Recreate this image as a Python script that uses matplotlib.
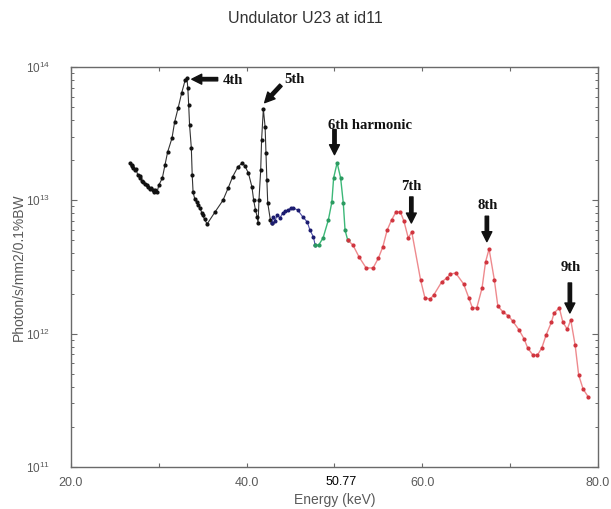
import matplotlib
matplotlib.use("Agg")
import matplotlib.pyplot as plt
from matplotlib.ticker import FixedLocator, LogLocator, LogFormatterMathtext, NullFormatter
import matplotlib.transforms as mtransforms

# ---------------- data ----------------
black_E = [26.7, 26.9, 27.0, 27.1, 27.3, 27.4, 27.6, 27.8, 27.9, 28.1, 28.2, 28.4, 28.6, 28.8,
           29.0, 29.1, 29.3, 29.5, 29.6, 29.8, 30.0, 30.4, 30.7, 31.0, 31.5, 31.8, 32.2, 32.6,
           33.0, 33.2, 33.3, 33.4, 33.5, 33.7, 33.8, 33.9, 34.1, 34.3, 34.5, 34.7, 34.9, 35.0,
           35.2, 35.5, 36.4, 37.3, 37.9, 38.4, 39.0, 39.5, 39.8, 40.2, 40.6, 40.8, 41.0, 41.2,
           41.3, 41.4, 41.6, 41.7, 41.9, 42.1, 42.2, 42.3, 42.4, 42.7, 42.9]
black_F = [1.91e13, 1.80e13, 1.85e13, 1.75e13, 1.70e13, 1.72e13, 1.55e13, 1.52e13, 1.47e13,
           1.40e13, 1.37e13, 1.33e13, 1.30e13, 1.26e13, 1.22e13, 1.24e13, 1.20e13, 1.16e13,
           1.19e13, 1.15e13, 1.30e13, 1.47e13, 1.84e13, 2.30e13, 2.93e13, 3.87e13, 4.93e13,
           6.38e13, 7.99e13, 8.27e13, 6.96e13, 5.19e13, 3.67e13, 2.47e13, 1.55e13, 1.15e13,
           1.02e13, 9.7e12, 9.2e12, 8.76e12, 8.0e12, 7.76e12, 7.2e12, 6.65e12, 8.18e12, 1.0e13,
           1.24e13, 1.50e13, 1.78e13, 1.91e13, 1.81e13, 1.60e13, 1.26e13, 1.0e13, 8.5e12,
           7.5e12, 6.76e12, 1.0e13, 1.69e13, 2.84e13, 4.84e13, 3.55e13, 2.26e13, 1.42e13,
           9.55e12, 7.12e12, 6.76e12]

blue_E = [42.9, 43.0, 43.2, 43.5, 43.8, 44.1, 44.4, 44.7, 45.0, 45.3, 45.8, 46.4, 46.9, 47.2,
          47.6, 47.8]
blue_F = [6.76e12, 7.5e12, 7.0e12, 7.76e12, 7.37e12, 8.04e12, 8.3e12, 8.47e12, 8.7e12, 8.76e12,
          8.47e12, 7.5e12, 6.88e12, 5.99e12, 5.31e12, 4.62e12]

green_E = [47.8, 48.2, 48.7, 49.3, 49.7, 49.9, 50.3, 50.7, 51.0, 51.2, 51.5]
green_F = [4.62e12, 4.62e12, 5.22e12, 7.12e12, 9.7e12, 1.47e13, 1.91e13, 1.47e13, 9.55e12,
           5.99e12, 5.04e12]

red_E = [51.5, 52.1, 52.8, 53.6, 54.4, 55.0, 55.5, 56.0, 56.5, 57.0, 57.5, 57.9, 58.4, 58.8,
         59.8, 60.3, 60.9, 61.3, 62.2, 62.8, 63.2, 63.8, 64.7, 65.3, 65.7, 66.2, 66.8, 67.2,
         67.6, 68.2, 68.6, 69.2, 69.8, 70.3, 71.0, 71.6, 72.0, 72.6, 73.1, 73.6, 74.1, 74.7,
         75.0, 75.6, 76.0, 76.5, 76.9, 77.4, 77.8, 78.3, 78.9]
red_F = [5.04e12, 4.62e12, 3.76e12, 3.11e12, 3.11e12, 3.69e12, 4.47e12, 5.99e12, 7.12e12,
         8.18e12, 8.18e12, 7.0e12, 5.22e12, 5.79e12, 2.53e12, 1.85e12, 1.82e12, 1.95e12,
         2.44e12, 2.62e12, 2.80e12, 2.85e12, 2.36e12, 1.85e12, 1.56e12, 1.56e12, 2.20e12,
         3.45e12, 4.32e12, 2.53e12, 1.61e12, 1.45e12, 1.36e12, 1.24e12, 1.07e12, 9.1e11,
         7.8e11, 6.9e11, 6.9e11, 7.8e11, 9.8e11, 1.22e12, 1.43e12, 1.56e12, 1.22e12, 1.08e12,
         1.27e12, 8.2e11, 4.9e11, 3.85e11, 3.35e11]

# harmonic annotations: label, text position, arrow tail, arrow head
harm_labels = ["4th", "5th", "6th harmonic", "7th", "8th", "9th"]
harm_text = [(37.3, 7.9e13), (44.3, 8.1e13), (54.0, 3.67e13), (58.75, 1.26e13),
             (67.4, 9.2e12), (76.9, 3.16e12)]
harm_ha = ["left", "left", "center", "center", "center", "center"]
arrow_tail = [(36.7, 8.1e13), (43.9, 7.3e13), (50.0, 3.4e13), (58.75, 1.06e13),
              (67.35, 7.6e12), (76.8, 2.4e12)]
arrow_head = [(33.75, 8.1e13), (42.05, 5.4e13), (50.0, 2.2e13), (58.75, 6.76e12),
              (67.35, 4.9e12), (76.8, 1.43e12)]

xticks_major = [20, 30, 40, 50, 60, 70, 80]
xtick_labels = ["20.0", "", "40.0", "", "60.0", "", "80.0"]
special_E = 50.77

# ---------------- figure ----------------
fig = plt.figure(figsize=(6.11, 5.09), dpi=100)
ax = fig.add_axes([0.1162, 0.0825, 0.8625, 0.7859])

ax.plot(black_E, black_F, color="#333333", lw=0.8, marker="o", ms=2.0, mfc="#111111",
        mec="#111111")
ax.plot(blue_E, blue_F, color="#5050a8", lw=0.8, marker="o", ms=1.9, mfc="#1c1c70",
        mec="#1c1c70")
ax.plot(green_E, green_F, color="#3cb878", lw=1.0, marker="o", ms=2.0, mfc="#2a9a60",
        mec="#2a9a60")
ax.plot(red_E, red_F, color="#ee8a8e", lw=1.0, marker="o", ms=2.0, mfc="#d0343e",
        mec="#d0343e")

ax.set_xscale("linear")
ax.set_yscale("log")
ax.set_xlim(20, 80)
ax.set_ylim(1e11, 1e14)

gray = "#5a5a5a"
for s in ax.spines.values():
    s.set_color("#6a6a6a")
    s.set_linewidth(1.0)

ax.xaxis.set_major_locator(FixedLocator(xticks_major))
ax.set_xticklabels(xtick_labels)
ax.yaxis.set_major_locator(LogLocator(base=10, numticks=10))
ax.yaxis.set_major_formatter(LogFormatterMathtext())
ax.yaxis.set_minor_locator(LogLocator(base=10, subs=range(2, 10), numticks=10))
ax.yaxis.set_minor_formatter(NullFormatter())

ax.tick_params(axis="x", which="major", direction="in", length=3, width=0.8, colors="#6a6a6a",
               labelcolor=gray, labelsize=9, pad=7, top=True)
ax.tick_params(axis="y", which="major", direction="in", length=4, width=0.8, colors="#6a6a6a",
               labelcolor=gray, labelsize=8.5, pad=15, right=True)
ax.tick_params(axis="y", which="minor", direction="in", length=2.5, width=0.7,
               colors="#6a6a6a", right=True)
for lab in ax.get_xticklabels() + ax.get_yticklabels():
    lab.set_family("Liberation Sans")

trans = mtransforms.blended_transform_factory(ax.transData, ax.transAxes)
ax.text(special_E, -0.038, "50.77", transform=trans, ha="center", va="center",
        fontsize=9, family="Liberation Sans", color="black")

ax.set_xlabel("Energy (keV)", fontsize=10, family="Liberation Sans", color=gray, labelpad=3)
ax.set_ylabel("Photon/s/mm2/0.1%BW", fontsize=10, family="Liberation Sans", color=gray,
              labelpad=0)
fig.text(0.5, 0.963, "Undulator U23 at id11", ha="center", va="center", fontsize=11.5,
         family="Liberation Sans", color="#333333")

for lab, pos, ha, tail, head in zip(harm_labels, harm_text, harm_ha, arrow_tail, arrow_head):
    ax.text(pos[0], pos[1], lab, ha=ha, va="center", fontsize=10.5,
            family="Liberation Serif", fontweight="bold", color="#111111")
    ax.annotate("", xy=head, xytext=tail,
                arrowprops=dict(arrowstyle="simple,head_length=0.65,head_width=0.65,tail_width=0.22",
                                color="#111111", mutation_scale=11, shrinkA=0, shrinkB=0))

fig.savefig("out.png", dpi=100)
